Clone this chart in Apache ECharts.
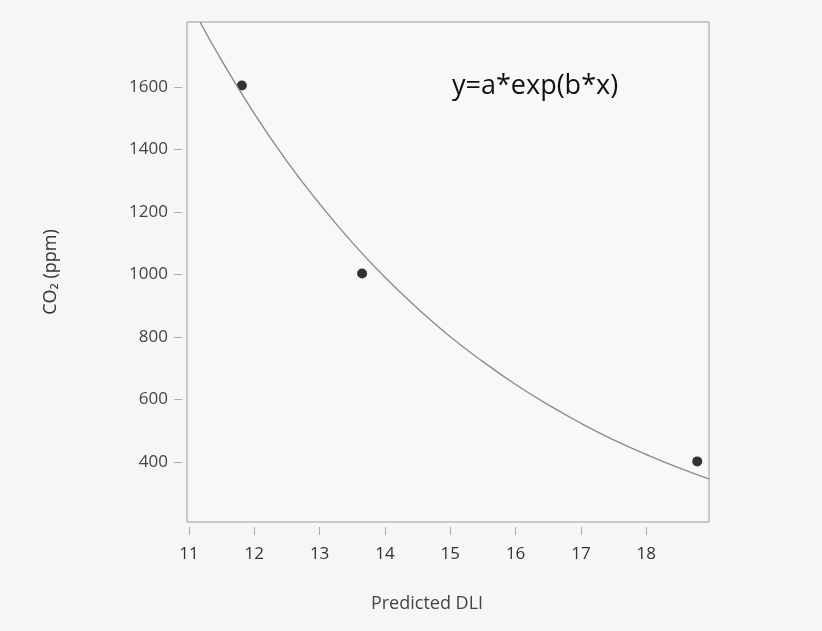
<!DOCTYPE html>
<html lang="en">
	<head>
		<meta charset="UTF-8">
		<title>CO2 vs Predicted DLI</title>
		<script src="https://cdn.jsdelivr.net/npm/echarts@6/dist/echarts.min.js" type="text/javascript" charset="utf-8"></script>
		<style>
			html, body { margin: 0; padding: 0; background: #f6f6f6; }
			#main { width: 822px; height: 631px; }
		</style>
	</head>
	<body>
		<div id="main"></div>
		<script>
			// measured points (Predicted DLI, CO2 ppm)
			var pointsX = [11.81, 13.65, 18.78];
			var pointsY = [1605, 1003, 402];
			// fitted curve y=a*exp(b*x)
			var curveX = [11.17, 11.5, 12, 12.5, 13, 13.5, 14, 14.5, 15, 15.5, 16, 16.5, 17, 17.5, 18, 18.5, 18.96];
			var curveY = [1808, 1685, 1515, 1362, 1226, 1102, 991, 891, 801, 721, 648, 583, 524, 471, 424, 381, 346];
			var xTicks = [11, 12, 13, 14, 15, 16, 17, 18];
			var yTicks = [400, 600, 800, 1000, 1200, 1400, 1600];

			var chartDom = document.getElementById('main');
			var myChart = echarts.init(chartDom);

			var option = {
				backgroundColor: '#f6f6f6',
				animation: false,
				textStyle: { fontFamily: 'Open Sans' },
				grid: {
					left: 187, right: 113, top: 22, bottom: 109,
					show: true,
					borderColor: '#9a9a9a',
					borderWidth: 1,
					backgroundColor: '#f8f8f8'
				},
				graphic: [{
					type: 'text',
					left: 452, top: 73,
					style: { text: 'y=a*exp(b*x)', fontSize: 27, fill: '#111', fontFamily: 'Open Sans' }
				}],
				xAxis: {
					type: 'value',
					min: 10.97, max: 18.96,
					offset: 5,
					name: 'Predicted DLI',
					nameLocation: 'middle',
					nameGap: 68,
					nameTextStyle: { fontSize: 18, color: '#444', padding: [0, 42, 0, 0] },
					axisLine: { show: false },
					splitLine: { show: false },
					axisTick: { show: true, length: 8, lineStyle: { color: '#aaa' }, customValues: xTicks },
					axisLabel: { fontSize: 17, color: '#333', margin: 19, customValues: xTicks }
				},
				yAxis: {
					type: 'value',
					min: 208, max: 1808,
					offset: 5,
					name: 'CO\u2082 (ppm)',
					nameLocation: 'middle',
					nameGap: 122,
					nameTextStyle: { fontSize: 18, color: '#333' },
					axisLine: { show: false },
					splitLine: { show: false },
					axisTick: { show: true, length: 8, lineStyle: { color: '#aaa' }, customValues: yTicks },
					axisLabel: {
						fontSize: 17, color: '#444', margin: 14, customValues: yTicks,
						formatter: function (v) { return String(v); }
					}
				},
				series: [
					{
						type: 'line',
						smooth: true,
						symbol: 'none',
						lineStyle: { color: '#8c8c8c', width: 1.4 },
						data: curveX.map(function (x, i) { return [x, curveY[i]]; })
					},
					{
						type: 'scatter',
						symbolSize: 10,
						itemStyle: { color: '#000' },
						data: pointsX.map(function (x, i) { return [x, pointsY[i]]; })
					}
				]
			};
			option && myChart.setOption(option);
		</script>
	</body>
</html>
